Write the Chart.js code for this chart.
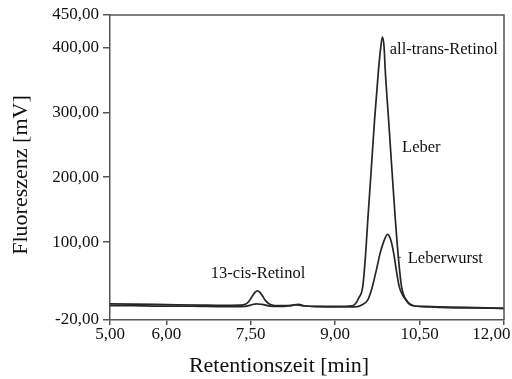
<!DOCTYPE html>
<html><head><meta charset="utf-8">
<script src="https://cdn.jsdelivr.net/npm/chart.js@4/dist/chart.umd.min.js"></script>
<style>html,body{margin:0;padding:0;background:#fff;}</style>
</head><body>
<canvas id="c" width="512" height="379" style="width:512px;height:379px;display:block"></canvas>
<script>
// Retention times (min) and fluorescence (mV)
const timeLeber = [5.0,5.4,5.8,6.2,6.6,7.0,7.3,7.4,7.47,7.53,7.58,7.62,7.66,7.71,7.77,7.85,8.0,8.2,8.3,8.4,8.7,9.0,9.3,9.36,9.42,9.49,9.54,9.58,9.64,9.70,9.77,9.81,9.84,9.87,9.89,9.95,10.01,10.07,10.13,10.18,10.24,10.30,10.38,10.6,11.0,11.5,12.0];
const valuesLeber = [5,4.5,4,3.5,3,2.5,3,4,9,17,23,25,23,17,9,4,2,2,3.5,2,1,1,2,5,14,31,80,134,210,288,365,400,416,400,365,288,210,134,70,31,14,6,2,1,0,-1,-2];
const timeLeberwurst = [5.0,5.4,5.8,6.2,6.6,7.0,7.4,7.5,7.6,7.7,7.85,8.1,8.25,8.35,8.45,8.7,9.0,9.4,9.47,9.58,9.66,9.74,9.80,9.86,9.93,9.99,10.04,10.09,10.14,10.20,10.25,10.32,10.40,10.7,11.0,11.5,12.0];
const valuesLeberwurst = [2,2,1.5,1.5,1,0.5,1,3,5,4,1.5,1,3,4,2,0.5,0,0.5,3,11,31,60,83,100,112,103,83,55,31,18,12,5,2,0,-1,-1.5,-2];
const xTicks = [5, 6, 7.5, 9, 10.5, 12];
const yTicks = [-20, 100, 200, 300, 400, 450];
const peakLabels = ['all-trans-Retinol', 'Leber', 'Leberwurst', '13-cis-Retinol'];
const peakLabelX = [9.97, 10.19, 10.29, 7.63];
const peakLabelY = [396, 245, 75, 52];
const xTitle = 'Retentionszeit [min]';
const yTitle = 'Fluoreszenz [mV]';

const SERIF = '"Liberation Serif", "Times New Roman", serif';
const fmt = v => Number(v).toFixed(2).replace('.', ',');
const toPts = (t, v) => t.map((x, i) => ({x: x, y: v[i]}));

const deco = {
  id: 'deco',
  afterDraw(chart) {
    const {ctx, chartArea: a, scales: {x, y}} = chart;
    ctx.save();
    ctx.strokeStyle = '#555'; ctx.lineWidth = 1.5;
    ctx.beginPath();
    ctx.moveTo(a.left, a.top); ctx.lineTo(a.right, a.top); ctx.lineTo(a.right, a.bottom);
    ctx.stroke();
    ctx.fillStyle = '#111';
    ctx.font = '16.5px ' + SERIF;
    ctx.textBaseline = 'middle';
    peakLabels.forEach((t, i) => {
      ctx.textAlign = i === 3 ? 'center' : 'left';
      ctx.fillText(t, x.getPixelForValue(peakLabelX[i]), y.getPixelForValue(peakLabelY[i]));
    });
    // small leader mark before "Leberwurst"
    ctx.strokeStyle = '#333'; ctx.lineWidth = 1;
    const lx = x.getPixelForValue(peakLabelX[2]) - 10, ly = y.getPixelForValue(peakLabelY[2]) - 1;
    ctx.beginPath(); ctx.moveTo(lx, ly); ctx.lineTo(lx + 3, ly); ctx.stroke();
    ctx.font = '22px ' + SERIF;
    ctx.textAlign = 'center';
    ctx.fillText(xTitle, 279, 366);
    ctx.translate(21, 175); ctx.rotate(-Math.PI / 2);
    ctx.fillText(yTitle, 0, 0);
    ctx.restore();
  }
};

new Chart(document.getElementById('c'), {
  type: 'line',
  data: {
    datasets: [
      {label: 'Leber', data: toPts(timeLeber, valuesLeber), borderColor: '#262626', borderWidth: 1.7, pointRadius: 0, tension: 0.4, cubicInterpolationMode: 'monotone', fill: false},
      {label: 'Leberwurst', data: toPts(timeLeberwurst, valuesLeberwurst), borderColor: '#262626', borderWidth: 1.7, pointRadius: 0, tension: 0.4, cubicInterpolationMode: 'monotone', fill: false}
    ]
  },
  options: {
    responsive: false, animation: false, devicePixelRatio: 1,
    layout: {padding: {top: 15, right: 8, left: 0, bottom: 0}},
    plugins: {legend: {display: false}, tooltip: {enabled: false}},
    scales: {
      x: {
        type: 'linear', min: 5, max: 12,
        afterBuildTicks: s => { s.ticks = xTicks.map(v => ({value: v})); },
        afterFit: s => { s.height = 59; s.paddingRight = 0; s.paddingLeft = 0; },
        grid: {display: true, drawOnChartArea: false, drawTicks: true, tickLength: 5, color: '#555', lineWidth: 1.5},
        border: {display: true, color: '#555', width: 1.5},
        ticks: {autoSkip: false, maxRotation: 0, padding: -1, color: '#111', font: {family: SERIF, size: 17},
          callback: (v, i, t) => i === t.length - 1 ? fmt(v) + '\u2002\u2002\u2002' : fmt(v)}
      },
      y: {
        type: 'linear', min: -20, max: 450,
        afterBuildTicks: s => { s.ticks = yTicks.map(v => ({value: v})); },
        afterFit: s => { s.width = 110; },
        grid: {display: true, drawOnChartArea: false, drawTicks: true, tickLength: 7, color: '#555', lineWidth: 1.5},
        border: {display: true, color: '#555', width: 1.5},
        ticks: {padding: 4, color: '#111', font: {family: SERIF, size: 17}, callback: v => fmt(v)}
      }
    }
  },
  plugins: [deco]
});
</script>
</body></html>
